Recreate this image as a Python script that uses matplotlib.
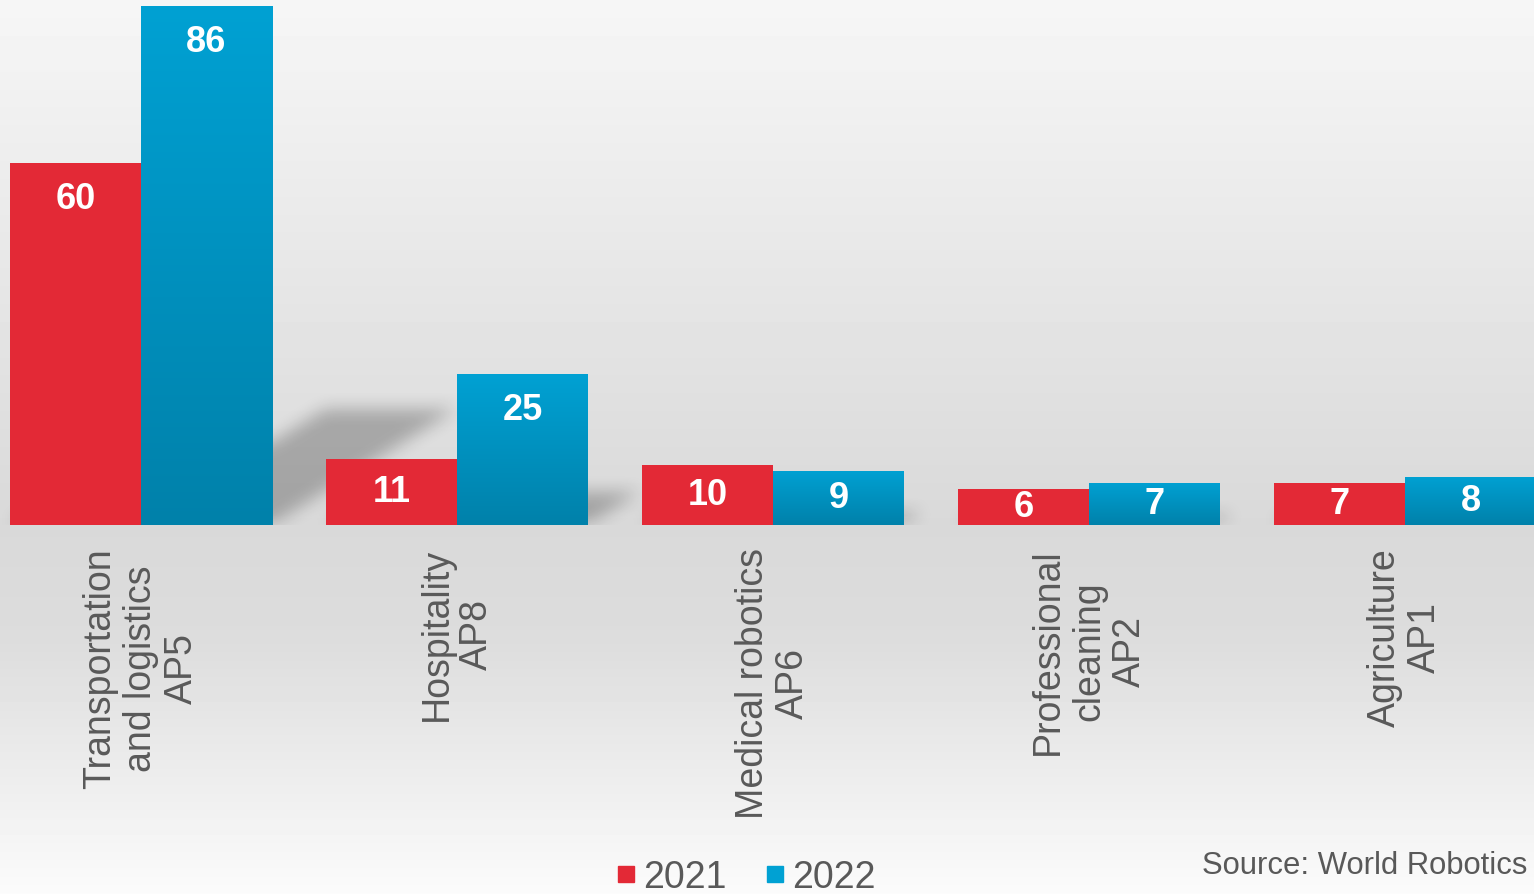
import numpy as np
import matplotlib.pyplot as plt
from matplotlib.lines import Line2D
from matplotlib.colors import LinearSegmentedColormap

plt.rcParams['font.family'] = ['Liberation Sans', 'DejaVu Sans']

# ── data ──────────────────────────────────────────────────────
categories = ['Transportation\nand logistics\nAP5', 'Hospitality\nAP8',
              'Medical robotics\nAP6', 'Professional\ncleaning\nAP2',
              'Agriculture\nAP1']
vals_2021 = [60, 11, 10, 6, 7]
vals_2022 = [86, 25, 9, 7, 8]
years = ['2021', '2022']

RED = '#e32936'
BLUE_TOP = '#00a1d3'
BLUE_BOT = '#0081aa'
TXT = '#595959'

W, H, DPI = 1534, 895, 100
fig = plt.figure(figsize=(W / DPI, H / DPI), dpi=DPI)

# ── background gradient ─────────────────────────────────────
bg = fig.add_axes([0, 0, 1, 1], zorder=-5)
rows = np.arange(H)
shade = np.interp(rows, [0, 526, 640, 895], [0.965, 0.85, 0.865, 0.985])
bg.imshow(shade[:, None], aspect='auto', cmap='gray', vmin=0, vmax=1,
          extent=[0, 1, 0, 1])
bg.axis('off')

# ── main axes ───────────────────────────────────────────────
base_px = 526
ax = fig.add_axes([0, 1 - base_px / H, 1, base_px / H])
ax.set_facecolor('none')
x = np.arange(len(categories))
w = 131 / 316
xmin, xmax = -141 / 316, (W - 141) / 316
ymax = base_px / 6.035
ax.set_xlim(xmin, xmax)
ax.set_ylim(0, ymax)
ax.axis('off')

# soft perspective shadows cast by the bars
ppx = W / (xmax - xmin)
ppy = base_px / ymax
shadow = np.zeros((base_px, W))
for xs, vals in ((x - w / 2, vals_2021), (x + w / 2, vals_2022)):
    for xc, v in zip(xs, vals):
        x0 = (xc - w / 2 - xmin) * ppx
        x1 = (xc + w / 2 - xmin) * ppx
        ht = int(0.225 * v * ppy)
        for u in range(ht):
            s = 1.6 * u
            a, b = int(max(x0 + s, 0)), int(min(x1 + s, W))
            if a < b:
                shadow[base_px - 1 - u, a:b] = 1


def blur(a, r):
    k = np.ones(2 * r + 1) / (2 * r + 1)
    for _ in range(2):
        a = np.apply_along_axis(lambda m: np.convolve(m, k, mode='same'), 1, a)
        a = np.apply_along_axis(lambda m: np.convolve(m, k, mode='same'), 0, a)
    return a


shadow = blur(shadow, 9)
rgba = np.zeros((base_px, W, 4))
rgba[..., 3] = 0.25 * shadow
ax.imshow(rgba, extent=[xmin, xmax, 0, ymax], aspect='auto', zorder=1)

# bars
bars_r = ax.bar(x - w / 2, vals_2021, w, color=RED, zorder=2, linewidth=0)
bars_b = ax.bar(x + w / 2, vals_2022, w, color=BLUE_BOT, zorder=2, linewidth=0)

cm_blue = LinearSegmentedColormap.from_list('b', [BLUE_BOT, BLUE_TOP])
grad = np.linspace(1, 0, 256)[:, None]
for bar in bars_b:
    bx, by = bar.get_x(), bar.get_height()
    im = ax.imshow(grad, cmap=cm_blue, aspect='auto', zorder=3,
                   extent=[bx, bx + bar.get_width(), 0, by])
    im.set_clip_path(bar)

# value labels
for bars, vals in ((bars_r, vals_2021), (bars_b, vals_2022)):
    for bar, v in zip(bars, vals):
        ly = max(v - 5.9, v / 2)
        ax.text(bar.get_x() + bar.get_width() / 2, ly, f'{v}',
                ha='center', va='center', color='white', fontsize=26,
                fontweight='bold', zorder=5)

# category labels
for xi, lab in zip(x, categories):
    ax.text(xi, -22 / base_px, lab, transform=ax.get_xaxis_transform(),
            rotation=90, ha='center', va='top', multialignment='center',
            fontsize=27, color=TXT, linespacing=1.17)

# legend
handles = [Line2D([], [], marker='s', linestyle='none', markersize=12,
                  color=c) for c in (RED, BLUE_TOP)]
fig.legend(handles, years, loc='center', ncol=2, frameon=False,
           bbox_to_anchor=(745 / W, 1 - 878 / H), fontsize=27,
           labelcolor=TXT, handletextpad=0.15, columnspacing=1.0,
           handlelength=0.6, borderaxespad=0)

fig.text(1202 / W, 1 - 866 / H, 'Source: World Robotics', ha='left',
         va='center', fontsize=22.3, color=TXT)

fig.savefig('out.png', dpi=DPI)
